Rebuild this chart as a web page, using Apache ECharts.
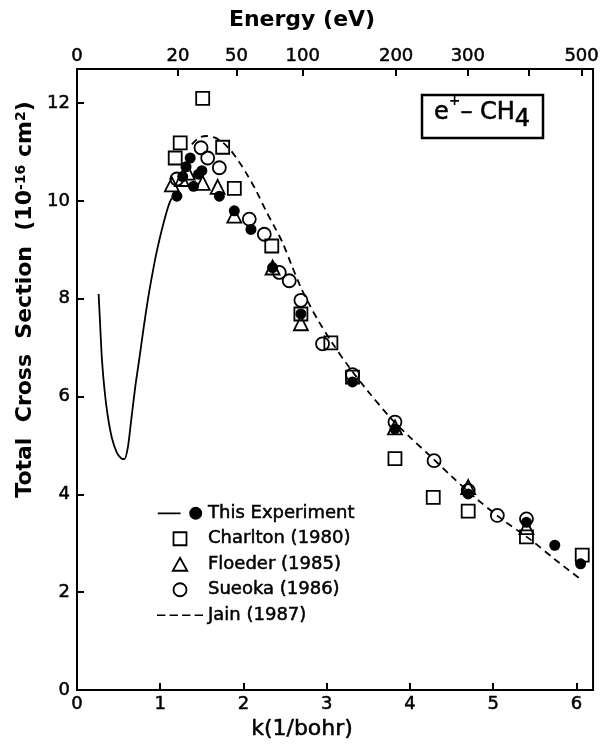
<!DOCTYPE html>
<html>
<head>
<meta charset="utf-8">
<script src="https://cdn.jsdelivr.net/npm/echarts@6/dist/echarts.min.js"></script>
<style>
  html, body { margin: 0; padding: 0; background: #fff; }
  #chart { width: 602px; height: 746px; }
</style>
</head>
<body>
<div id="chart"></div>
<script>
// axis ticks
const kTicks = [0, 1, 2, 3, 4, 5, 6]
const yTicks = [0, 2, 4, 6, 8, 10, 12]
const energyLabels = [0, 20, 50, 100, 200, 300, 500]
const energyTicks = [0, 20, 50, 100, 200, 300, 400, 500]
const RYD = 13.6057 // E(eV) = RYD * k^2

// this experiment: fitted curve and points  [k, sigma]
const expCurve = [
  [0.26, 8.10], [0.28, 7.40], [0.30, 6.75], [0.33, 6.15], [0.37, 5.60],
  [0.42, 5.15], [0.48, 4.85], [0.53, 4.74], [0.57, 4.72], [0.61, 4.95],
  [0.65, 5.50], [0.70, 6.20], [0.745, 6.73], [0.80, 7.40], [0.855, 8.02],
  [0.91, 8.55], [0.96, 8.98], [1.04, 9.55], [1.12, 10.00], [1.20, 10.15]
]
const expPoints = [
  [1.20, 10.10], [1.27, 10.50], [1.31, 10.70], [1.36, 10.88], [1.40, 10.30],
  [1.46, 10.55], [1.50, 10.62], [1.71, 10.10], [1.89, 9.80], [2.09, 9.42],
  [2.35, 8.64], [2.69, 7.69], [3.31, 6.30], [3.82, 5.34], [4.70, 4.01],
  [5.40, 3.43], [5.74, 2.96], [6.05, 2.58]
]
// Charlton (1980)
const charlton = [
  [1.18, 10.88], [1.24, 11.19], [1.51, 12.10], [1.75, 11.10], [1.89, 10.26],
  [2.34, 9.08], [2.69, 7.69], [3.05, 7.10], [3.31, 6.40], [3.82, 4.73],
  [4.28, 3.94], [4.70, 3.66], [5.40, 3.13], [6.07, 2.76]
]
// Floeder (1985)
const floeder = [
  [1.14, 10.34], [1.26, 10.45], [1.33, 10.58], [1.51, 10.37], [1.69, 10.29],
  [1.89, 9.70], [2.35, 8.64], [2.69, 7.50], [3.82, 5.37], [4.70, 4.15],
  [5.40, 3.33]
]
// Sueoka (1986)
const sueoka = [
  [1.20, 10.45], [1.49, 11.09], [1.57, 10.88], [1.71, 10.68], [2.07, 9.63],
  [2.25, 9.32], [2.43, 8.54], [2.55, 8.37], [2.69, 7.97], [2.95, 7.08],
  [3.31, 6.45], [3.82, 5.48], [4.29, 4.69], [4.70, 4.08], [5.05, 3.57],
  [5.40, 3.50]
]
// Jain (1987) theory
const jainCurve = [
  [1.38, 11.16], [1.47, 11.30], [1.56, 11.33], [1.65, 11.30], [1.75, 11.20],
  [1.84, 11.05], [1.94, 10.82], [2.03, 10.58], [2.15, 10.22], [2.27, 9.80],
  [2.37, 9.48], [2.47, 9.15], [2.58, 8.68], [2.69, 8.23], [2.79, 7.89],
  [2.90, 7.55], [3.05, 7.14], [3.27, 6.60], [3.50, 6.10], [3.78, 5.54],
  [4.00, 5.17], [4.26, 4.76], [4.50, 4.37], [4.78, 3.94], [5.10, 3.50],
  [5.46, 3.06], [5.75, 2.66], [6.07, 2.24]
]

const FONT = 'DejaVu Sans'
const toK = e => Math.sqrt(e / RYD)

const chart = echarts.init(document.getElementById('chart'))

const axisLineStyle = { color: '#000', width: 2 }
const openStyle = { color: 'rgba(0,0,0,0)', borderColor: '#000', borderWidth: 1.8, opacity: 1 }
// slightly heavier lettering, like the original
const heavy = { color: '#000', textBorderColor: '#000', textBorderWidth: 0.5 }

const option = {
  animation: false,
  backgroundColor: '#fff',
  grid: {
    left: 77, right: 6, top: 69, bottom: 56,
    show: true, borderColor: '#000', borderWidth: 2
  },
  xAxis: [
    {
      type: 'value', position: 'bottom', min: 0, max: 6.2,
      name: 'k(1/bohr)', nameLocation: 'middle', nameGap: 24,
      nameTextStyle: { fontFamily: FONT, fontSize: 22, padding: [0, 66, 0, 0], ...heavy },
      axisLine: { show: true, onZero: false, lineStyle: axisLineStyle },
      axisTick: { show: true, inside: true, length: 7, customValues: kTicks, lineStyle: axisLineStyle },
      axisLabel: { customValues: kTicks, margin: 5, fontFamily: FONT, fontSize: 18, ...heavy },
      splitLine: { show: false }
    },
    {
      type: 'value', position: 'top', min: 0, max: 6.2,
      name: 'Energy (eV)', nameLocation: 'middle', nameGap: 38,
      nameTextStyle: { fontFamily: FONT, fontSize: 22, fontWeight: 'bold', color: '#000', padding: [0, 66, 0, 0] },
      axisLine: { show: true, onZero: false, lineStyle: axisLineStyle },
      axisTick: { show: true, inside: true, length: 7, customValues: energyTicks.map(toK), lineStyle: axisLineStyle },
      axisLabel: {
        customValues: energyLabels.map(toK), margin: 4,
        fontFamily: FONT, fontSize: 18, ...heavy,
        formatter: v => String(Math.round(RYD * v * v))
      },
      splitLine: { show: false }
    }
  ],
  yAxis: {
    type: 'value', min: 0, max: 12.7,
    name: '{a|Total  Cross  Section  (10}{s|-16}{a| cm}{s|2}{a|)}',
    nameLocation: 'middle', nameGap: 38,
    nameTextStyle: {
      color: '#000', padding: [0, 0, 0, 160],
      rich: {
        a: { fontFamily: FONT, fontSize: 22, fontWeight: 'bold', color: '#000' },
        s: { fontFamily: FONT, fontSize: 14, fontWeight: 'bold', color: '#000', verticalAlign: 'top' }
      }
    },
    axisLine: { show: true, onZero: false, lineStyle: axisLineStyle },
    axisTick: { show: true, inside: true, length: 7, customValues: yTicks, lineStyle: axisLineStyle },
    axisLabel: { customValues: yTicks, margin: 7, fontFamily: FONT, fontSize: 18, ...heavy },
    splitLine: { show: false }
  },
  legend: {
    orient: 'vertical', left: 152, top: 499,
    itemWidth: 46, itemHeight: 13, itemGap: 7,
    symbolKeepAspect: true,
    selectedMode: false,
    textStyle: { fontFamily: FONT, fontSize: 18, lineHeight: 18, ...heavy },
    data: [
      {
        name: 'This Experiment',
        icon: 'path://M0,5.8H21V7.4H0Z M41,6.5A6,6,0,1,1,29,6.5A6,6,0,1,1,41,6.5Z',
        itemStyle: { color: '#000', borderWidth: 0, opacity: 1 }
      },
      { name: 'Charlton (1980)', icon: 'path://M0,0H10V10H0Z', itemStyle: openStyle },
      { name: 'Floeder (1985)', icon: 'path://M5,0L10,9L0,9Z', itemStyle: openStyle },
      { name: 'Sueoka (1986)', icon: 'circle', itemStyle: openStyle },
      {
        name: 'Jain (1987)',
        icon: 'path://M0,6H8V7.6H0Z M12,6H20V7.6H12Z M24,6H32V7.6H24Z M36,6H44V7.6H36Z',
        itemStyle: { color: '#000', borderWidth: 0, opacity: 1 }
      }
    ]
  },
  graphic: [
    {
      type: 'rect', z: 100,
      shape: { x: 422, y: 95, width: 121, height: 43 },
      style: { fill: '#fff', stroke: '#000', lineWidth: 2.5 }
    },
    {
      type: 'text', z: 101, x: 482, y: 113,
      style: {
        text: '{a|e}{p|+}{a|– CH}{b|4}',
        align: 'center', verticalAlign: 'middle',
        rich: {
          a: { fontFamily: FONT, fontSize: 24, fill: '#000', stroke: '#000', lineWidth: 0.6 },
          p: { fontFamily: FONT, fontSize: 14, fontWeight: 'bold', fill: '#000', padding: [0, 0, 24, 0] },
          b: { fontFamily: FONT, fontSize: 24, fill: '#000', stroke: '#000', lineWidth: 0.6, padding: [14, 0, 0, 0] }
        }
      }
    }
  ],
  series: [
    {
      name: 'This Experiment', type: 'line', data: expCurve,
      symbol: 'none', smooth: 0.25, silent: true,
      lineStyle: { color: '#000', width: 1.8 }, itemStyle: { color: '#000' }
    },
    {
      name: 'Jain (1987)', type: 'line', data: jainCurve,
      symbol: 'none', smooth: 0.3, silent: true,
      lineStyle: { color: '#000', width: 1.8, type: [7, 5] }, itemStyle: { color: '#000' }
    },
    {
      name: 'Charlton (1980)', type: 'scatter', data: charlton, silent: true,
      symbol: 'rect', symbolSize: 13, itemStyle: openStyle
    },
    {
      name: 'Floeder (1985)', type: 'scatter', data: floeder, silent: true,
      symbol: 'triangle', symbolSize: 14, itemStyle: openStyle
    },
    {
      name: 'Sueoka (1986)', type: 'scatter', data: sueoka, silent: true,
      symbol: 'circle', symbolSize: 13, itemStyle: openStyle
    },
    {
      name: 'This Experiment', type: 'scatter', data: expPoints, silent: true,
      symbol: 'circle', symbolSize: 11, itemStyle: { color: '#000', opacity: 1 }
    }
  ]
}

chart.setOption(option)
</script>
</body>
</html>
